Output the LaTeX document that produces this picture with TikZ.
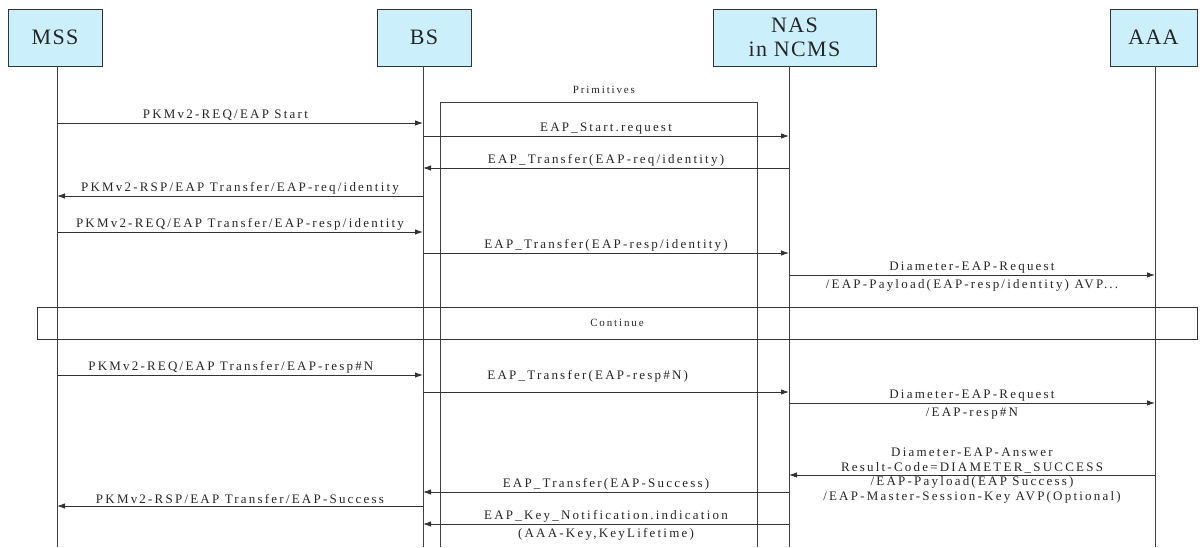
\documentclass[tikz,border=0pt]{standalone}
\usepackage{fontspec}
\setmainfont{Liberation Serif}
\newfontfamily\lblfont{Liberation Serif}[LetterSpace=17]
\newfontfamily\hdrfont{Liberation Serif}[LetterSpace=6]
\usetikzlibrary{arrows.meta,calc,positioning}
\tikzstyle{entity} = [draw=black!80, fill=cyan!20, line width=0.9pt,
minimum height=57pt, inner sep=0pt, align=center,
font=\hdrfont\fontsize{22}{24}\selectfont, text=black!85]
\tikzstyle{life} = [draw=black!75, line width=0.9pt]
\tikzstyle{msg} = [draw=black!80, line width=0.9pt, -{Latex[length=8pt,width=5.5pt]}]
\tikzstyle{lbl} = [font=\lblfont\fontsize{13}{14.5}\selectfont, text=black!85,
inner sep=1.5pt, align=center]
\tikzstyle{small} = [font=\lblfont\fontsize{11}{13}\selectfont, text=black!85]

\begin{document}
\begin{tikzpicture}[x=1pt,y=-1pt]
            \useasboundingbox (0,0) rectangle (1203,547);
            % entities
            \node[entity, minimum width=94pt] (mss) at (55,37.5) {MSS};
            \node[entity, minimum width=94pt] (bs) at (424,37.5) {BS};
            \node[entity, minimum width=163pt] (nas) at (794.5,37.5) {NAS\\in NCMS};
            \node[entity, minimum width=87pt] (aaa) at (1153.5,37.5) {AAA};
            \coordinate (mssL) at (57,66);
            \coordinate (bsL) at (423,66);
            \coordinate (nasL) at (789,66);
            \coordinate (aaaL) at (1155,66);
            \foreach \n in {mssL,bsL,nasL,aaaL}
                \draw[life] (\n) -- (\n |- 0,547);
            % primitives frame
            \draw[life] (440,547) |- (757,102) -- (757,547);
            \node[small] (prim) at (604,90) {Primitives};
            \node[draw=black!80, line width=0.9pt, minimum width=1160pt,
            minimum height=32pt, small] (cont) at (617,323) {Continue};
            % messages
            \draw[msg] (mssL |- 0,123) -- node[lbl, above, pos=0.46] {PKMv2-REQ/EAP Start} (bsL |- 0,123);
            \draw[msg] (bsL |- 0,136) -- node[lbl, above] {EAP\_Start.request} (nasL |- 0,136);
            \draw[msg] (nasL |- 0,168) -- node[lbl, above] {EAP\_Transfer(EAP-req/identity)} (bsL |- 0,168);
            \draw[msg] (bsL |- 0,196) -- node[lbl, above] {PKMv2-RSP/EAP Transfer/EAP-req/identity} (mssL |- 0,196);
            \draw[msg] (mssL |- 0,232) -- node[lbl, above] {PKMv2-REQ/EAP Transfer/EAP-resp/identity} (bsL |- 0,232);
            \draw[msg] (bsL |- 0,253) -- node[lbl, above] {EAP\_Transfer(EAP-resp/identity)} (nasL |- 0,253);
            \draw[msg] (nasL |- 0,275) -- node[lbl, above] {Diameter-EAP-Request}
                node[lbl, below=3pt] {/EAP-Payload(EAP-resp/identity) AVP...} (aaaL |- 0,275);
            \draw[msg] (mssL |- 0,375) -- node[lbl, above, pos=0.475] {PKMv2-REQ/EAP Transfer/EAP-resp\#N} (bsL |- 0,375);
            \draw[msg] (bsL |- 0,392) -- node[lbl, above=8pt, pos=0.45] {EAP\_Transfer(EAP-resp\#N)} (nasL |- 0,392);
            \draw[msg] (nasL |- 0,403) -- node[lbl, above] {Diameter-EAP-Request}
                node[lbl, below=3pt] {/EAP-resp\#N} (aaaL |- 0,403);
            \draw[msg] (aaaL |- 0,475) -- node[lbl, above] {Diameter-EAP-Answer\\Result-Code=DIAMETER\_SUCCESS}
                node[lbl, below] {/EAP-Payload(EAP Success)\\/EAP-Master-Session-Key AVP(Optional)} (nasL |- 0,475);
            \draw[msg] (nasL |- 0,492) -- node[lbl, above] {EAP\_Transfer(EAP-Success)} (bsL |- 0,492);
            \draw[msg] (bsL |- 0,506) -- node[lbl, above] {PKMv2-RSP/EAP Transfer/EAP-Success} (mssL |- 0,506);
            \draw[msg] (nasL |- 0,524) -- node[lbl, above] {EAP\_Key\_Notification.indication}
                node[lbl, below=2pt] {(AAA-Key,KeyLifetime)} (bsL |- 0,524);
        \end{tikzpicture}
\end{document}
